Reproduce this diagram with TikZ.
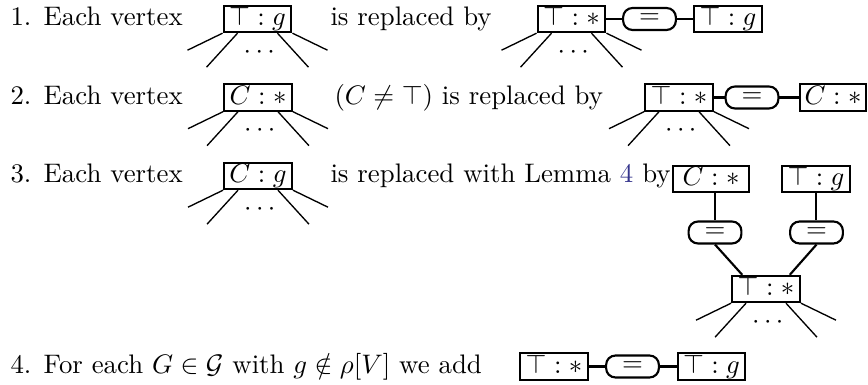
\documentclass[tikz,border=0pt]{standalone}
\usepackage{amsmath}
\usepackage{amssymb}
\usepackage{xcolor}
\usetikzlibrary{calc}
\definecolor{linkcol}{RGB}{52,52,140}

\begin{document}
\begin{tikzpicture}[
  x=0.3731pt, y=-0.3731pt,
  lbl/.style={anchor=base west, inner sep=0pt},
  vbox/.style={draw, line width=0.8pt, minimum width=25.3pt,
               inner xsep=1pt, inner ysep=0.4pt,
               text height=7pt, text depth=2pt},
  eqbox/.style={draw, line width=0.8pt, rounded corners=3.5pt,
                minimum width=19.7pt, minimum height=8.2pt, inner sep=1pt},
  lnk/.style={line width=0.8pt},
  leg/.style={line width=0.5pt}
]
  \useasboundingbox (0,0) rectangle (868,385);

  % rule 1
  \node[lbl] (t1) at (10,26) {1.\hspace{4.6pt}Each vertex};
  \node[vbox] (v1) at (257.5,19) {$\top : g$};
  \node[lbl] (s1) at (330,26) {is replaced by};
  \node[vbox] (a1) at (571.5,19) {$\top : *$};
  \node[eqbox] (eq1) at (649.5,19) {$=$};
  \node[vbox] (g1) at (728,19) {$\top : g$};
  \draw[lnk] (a1) -- (eq1);
  \draw[lnk] (eq1) -- (g1);

  % rule 2
  \node[lbl] (t2) at (10,104.5) {2.\hspace{4.6pt}Each vertex};
  \node[vbox] (v2) at (258,97.5) {$C : *$};
  \node[lbl] (s2) at (334,104.5) {$(C \neq \top)$ is replaced by};
  \node[vbox] (a2) at (679,97.5) {$\top : *$};
  \node[eqbox] (eq2) at (752,97.5) {$=$};
  \node[vbox, minimum width=24.6pt] (c2) at (833,97.5) {$C : *$};
  \draw[lnk] (a2) -- (eq2);
  \draw[lnk] (eq2) -- (c2);

  % rule 3
  \node[lbl] (t3) at (10,183) {3.\hspace{4.6pt}Each vertex};
  \node[vbox] (v3) at (258,176) {$C : g$};
  \node[lbl] (s3) at (330,183)
    {is replaced with Lemma \textcolor{linkcol}{4} by};
  \node[vbox, minimum width=28.3pt] (c3) at (711,179) {$C : *$};
  \node[vbox] (g3) at (816,179) {$\top : g$};
  \node[eqbox] (eq3l) at (715,232.5) {$=$};
  \node[eqbox] (eq3r) at (816.5,232.5) {$=$};
  \node[vbox] (a3) at (766,289) {$\top : *$};
  \draw[lnk] (eq3l.north |- c3.south) -- (eq3l.north);
  \draw[lnk] (g3.south) -- (g3.south |- eq3r.north);
  \draw[lnk] (eq3l.south) -- ($(a3.north west)!0.16!(a3.north east)$);
  \draw[lnk] (eq3r.south) -- ($(a3.north west)!0.84!(a3.north east)$);

  % rule 4
  \node[lbl] (t4) at (10,373.5)
    {4.\hspace{4.6pt}For each $G \in \mathcal{G}$ with $g \notin \rho[V]$ we add};
  \node[vbox] (a4) at (554,366.5) {$\top : *$};
  \node[eqbox] (eq4) at (632.5,366.5) {$=$};
  \node[vbox] (g4) at (711.5,366.5) {$\top : g$};
  \draw[lnk] (a4) -- (eq4);
  \draw[lnk] (eq4) -- (g4);

  % edges hanging below a vertex
  \foreach \b in {v1,a1,v2,a2,v3,a3} {
    \draw[leg] (\b.south west) -- ++(-35,17);
    \draw[leg] ($(\b.south west)+(15,0)$) -- ++(-31,34);
    \draw[leg] ($(\b.south east)+(-15,0)$) -- ++(31,34);
    \draw[leg] (\b.south east) -- ++(35,17);
    \node (\b dots) at ($(\b.south)+(4,19)$) {$\cdots$};
  }
\end{tikzpicture}
\end{document}
